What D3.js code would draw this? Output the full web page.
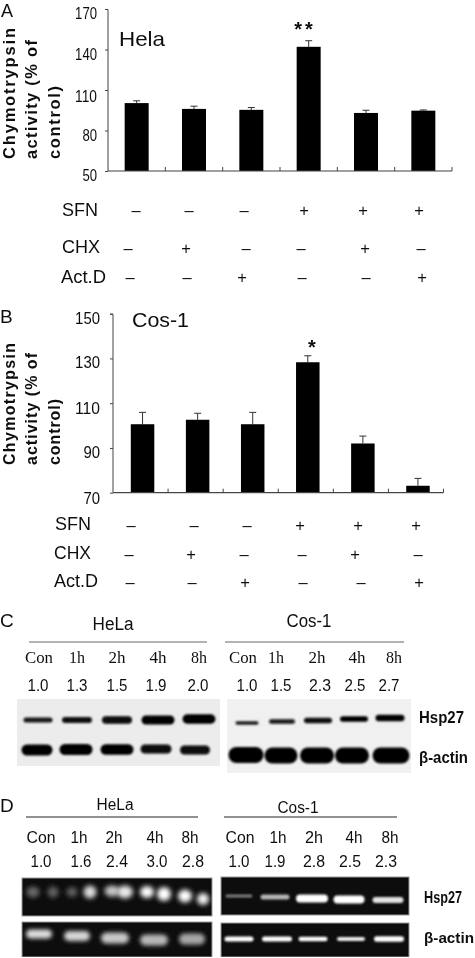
<!DOCTYPE html>
<html><head><meta charset="utf-8">
<script src="https://cdnjs.cloudflare.com/ajax/libs/d3/7.8.5/d3.min.js"></script>
<style>html,body{margin:0;padding:0;background:#fff}svg{display:block}text{font-family:"Liberation Sans",Arial,sans-serif;fill:#111}</style>
</head><body><svg id="c" width="475" height="958"></svg>
<script>
// ---- data ----
const treatments = ["1","2","3","4","5","6"];
const helaMeans = [100.3, 96, 95.3, 142, 93, 94.7];
const helaTops  = [102, 98, 97, 146.5, 95, 95.2];
const cosMeans  = [100.6, 102.6, 100.6, 128.3, 92, 73.1];
const cosTops   = [105.9, 105.5, 105.9, 131.2, 95.3, 76.4];
const helaTicks = [50, 80, 110, 140, 170];
const cosTicks  = [70, 90, 110, 130, 150];
const sfnSigns = ["–","–","–","+","+","+"];
const chxSigns = ["–","+","–","–","+","–"];
const actSigns = ["–","–","+","–","–","+"];
const lanes = ["Con","1h","2h","4h","8h"];
const foldCHeLa = ["1.0","1.3","1.5","1.9","2.0"];
const foldCCos  = ["1.0","1.5","2.3","2.5","2.7"];
const foldDHeLa = ["1.0","1.6","2.4","3.0","2.8"];
const foldDCos  = ["1.0","1.9","2.8","2.5","2.3"];
// band strengths read from the blots (0..1)
const cHspHeLa = [0.85,0.9,0.95,1,1];
const cActHeLa = [0.97,0.97,0.97,0.95,0.95];
const cHspCos  = [0.85,0.88,0.95,0.97,1];
const cActCos  = [1,1,1,1,1];
const dHspHeLaA = [0.32,0.28,0.75,1,1];
const dHspHeLaB = [0.3,0.85,0.9,1,0.95];
const dActHeLa = [0.85,0.82,0.75,0.68,0.6];
const dHspCos  = [0.42,0.68,1,1,0.88];
const dActCos  = [1,1,1,0.92,1];

const svg = d3.select("#c");
const defs = svg.append("defs");
[["b1",1.3],["b2",2.0],["b3",2.8]].forEach(([id,s])=>{
  defs.append("filter").attr("id",id).attr("x","-40%").attr("y","-100%").attr("width","180%").attr("height","300%")
    .append("feGaussianBlur").attr("stdDeviation",s);
});
defs.append("filter").attr("id","soft").attr("x","0").attr("y","0").attr("width","100%").attr("height","100%")
  .append("feGaussianBlur").attr("stdDeviation",0.35);
const root = svg.append("g").attr("filter","url(#soft)");

function T(x,y,s,o={}){
  const t=root.append("text").attr("x",x).attr("y",y).text(s)
    .attr("font-size",o.size||14).attr("text-anchor",o.anchor||"start");
  if(o.w){t.attr("textLength",o.w).attr("lengthAdjust",o.adj||"spacingAndGlyphs");}
  if(o.bold)t.attr("font-weight","bold");
  if(o.serif)t.style("font-family",'"Liberation Serif",serif');
  if(o.ls)t.attr("letter-spacing",o.ls);
  if(o.rot)t.attr("transform",`rotate(${o.rot} ${x} ${y})`);
  return t;
}

function barPanel(cfg){
  const g=root.append("g");
  const x=d3.scaleBand().domain(treatments).range([cfg.x0,cfg.x1]).padding(0);
  const y=d3.scaleLinear().domain(cfg.domain).range([cfg.yBase,cfg.yTop]);
  const bw=cfg.barW;
  g.selectAll("line.e").data(cfg.tops).join("line")
    .attr("x1",(d,i)=>x(treatments[i])+x.bandwidth()/2+cfg.shift).attr("x2",(d,i)=>x(treatments[i])+x.bandwidth()/2+cfg.shift)
    .attr("y1",(d,i)=>y(cfg.means[i])).attr("y2",d=>y(d)).attr("stroke","#333").attr("stroke-width",1);
  g.selectAll("line.c").data(cfg.tops).join("line")
    .attr("x1",(d,i)=>x(treatments[i])+x.bandwidth()/2+cfg.shift-3.5).attr("x2",(d,i)=>x(treatments[i])+x.bandwidth()/2+cfg.shift+3.5)
    .attr("y1",d=>y(d)).attr("y2",d=>y(d)).attr("stroke","#333").attr("stroke-width",1);
  g.selectAll("rect").data(cfg.means).join("rect")
    .attr("x",(d,i)=>x(treatments[i])+x.bandwidth()/2+cfg.shift-bw/2).attr("width",bw)
    .attr("y",d=>y(d)).attr("height",d=>cfg.yBase-y(d)).attr("fill","#060606");
  const ya=d3.axisLeft(y).tickValues(cfg.ticks).tickSize(3).tickFormat("");
  const yg=g.append("g").attr("transform",`translate(${cfg.x0},0)`).call(ya);
  yg.selectAll("path,line").attr("stroke","#444").attr("stroke-width",1);
  yg.select("path").attr("d",`M-3,${cfg.yTop+.5}H0V${cfg.yBase}`);
  const xa=d3.axisBottom(x).tickSize(0).tickFormat("");
  const xg=g.append("g").attr("transform",`translate(0,${cfg.yBase})`).call(xa);
  xg.select("path").attr("d",`M${cfg.x0},0H${cfg.x1}`).attr("stroke","#444").attr("stroke-width",1.2);
  xg.selectAll("line.t").data(treatments).join("line").attr("class","t")
    .attr("x1",d=>x(d)+x.bandwidth()).attr("x2",d=>x(d)+x.bandwidth()).attr("y1",0).attr("y2",-4)
    .attr("stroke","#444").attr("stroke-width",1);
  cfg.ticks.forEach((t,i)=>T(cfg.tickX,y(t)+cfg.tickDy[i],String(t),{anchor:"end",size:cfg.tickSize,w:String(t).length*cfg.digitW}));
}

barPanel({x0:108,x1:452,yBase:171,yTop:9,domain:[50,170],ticks:helaTicks,means:helaMeans,tops:helaTops,
  barW:24,shift:0,tickX:97,tickDy:[9.7,10,11.7,10.3,10.3],tickSize:17,digitW:7.3});
barPanel({x0:113,x1:443.5,yBase:492.7,yTop:313.7,domain:[70,150],ticks:cosTicks,means:cosMeans,tops:cosTops,
  barW:23.5,shift:2,tickX:100,tickDy:[11.3,10.5,11,10,10.3],tickSize:17,digitW:8.3});

// letters
T(1,16.5,"A",{size:18});T(0,323,"B",{size:19});T(0,627,"C",{size:19});T(0,812,"D",{size:19});
// titles
T(119,46,"Hela",{size:21,w:46});T(132,327,"Cos-1",{size:21,w:57});
T(305,36,"**",{size:20,anchor:"middle",ls:3,bold:true});
T(312,354,"*",{size:20,anchor:"middle",bold:true});

// y titles
[[15,159,"Chymotrypsin",131],[37,159,"activity (% of",119],[60,159,"control)",73]].forEach(([x,y,s,w])=>
  T(x,y,s,{rot:-90,bold:true,size:16.5,w,adj:"spacing"}));
[[15,465,"Chymotrypsin",122],[37,465,"activity (% of",112],[60,465,"control)",66]].forEach(([x,y,s,w])=>
  T(x,y,s,{rot:-90,bold:true,size:16,w,adj:"spacing"}));

// sign tables
const signRows=[
 {lab:"SFN",lx:62,ly:216,w:36,signs:sfnSigns,xs:[136,189,244,304,363,419],y:216},
 {lab:"CHX",lx:62,ly:253,w:38,signs:chxSigns,xs:[128,186,246,301,365,421],y:254},
 {lab:"Act.D",lx:61,ly:283,w:45,signs:actSigns,xs:[130,187,242,302,366,422],y:283},
 {lab:"SFN",lx:55,ly:530,w:36,signs:sfnSigns,xs:[131,194,247,300,358,416],y:531},
 {lab:"CHX",lx:54,ly:559,w:37,signs:chxSigns,xs:[129,191,244,302,355,418],y:560},
 {lab:"Act.D",lx:54,ly:587,w:44,signs:actSigns,xs:[130,192,245,303,361,419],y:588}];
signRows.forEach(r=>{
  T(r.lx,r.ly,r.lab,{size:18,w:r.w});
  r.signs.forEach((s,i)=>T(r.xs[i],r.y,s,{size:16.5,anchor:"middle"}));
});

// blots
function blot(rect,bg,border){
  root.append("rect").attr("x",rect[0]).attr("y",rect[1]).attr("width",rect[2]).attr("height",rect[3]).attr("fill",bg)
    .attr("stroke",border||"none").attr("stroke-width",border?1:0);
}
const clipN={i:0};
function bands(rect,cxs,cys,ws,hs,vals,col,blur,shape){
  const id="cl"+(clipN.i++);
  defs.append("clipPath").attr("id",id).append("rect").attr("x",rect[0]).attr("y",rect[1]).attr("width",rect[2]).attr("height",rect[3]);
  const rr=shape==="round";
  root.append("g").attr("clip-path",`url(#${id})`).append("g").attr("filter",`url(#${blur})`)
    .selectAll("rect").data(vals).join("rect")
    .attr("x",(d,i)=>cxs[i]-ws[i]/2).attr("y",(d,i)=>cys[i]-hs[i]/2)
    .attr("width",(d,i)=>ws[i]).attr("height",(d,i)=>hs[i])
    .attr("rx",(d,i)=>rr?ws[i]/2:hs[i]/2).attr("ry",(d,i)=>hs[i]/2)
    .attr("fill",d=>col(d));
}
const darkInk=d=>d3.interpolateRgb("#999","#000")(d);
const rC1=[17,699,203,67], rC2=[227,699,184,74];
blot(rC1,"#ececec");blot(rC2,"#f0f0f0");
bands(rC1,[38,77,117,158,199],[720,720,720,720,719],[29,30,30,33,33],[5,6,7.5,9,9.5],cHspHeLa,darkInk,"b1");
bands(rC1,[37,76,117,156,195],[750,749.5,749.5,749,750],[31,33,33,31,30],[11,11,10.5,9,9],cActHeLa,darkInk,"b1");
bands(rC2,[247,282,318,354,390],[723,721.5,720.5,719,718],[23,26,28,28,29],[3.5,4.5,5.5,5.5,6.5],cHspCos,darkInk,"b1");
bands(rC2,[246,281,317,352,391],[755,755.5,755.5,755.5,755.5],[35,33,34,34,37],[16,16,16,16,16],cActCos,d=>"#030303","b1");

const rD=[[22,878,190,38],[22,922,190,35],[221,877,188,38],[221,923,188,34]];
rD.forEach(r=>blot(r,"#0c0c0c","#999"));
const glow=d=>d3.interpolateRgb("#222","#fff")(d);
bands(rD[0],[33,72,112,147,185],[892,892,891,892,896],[13,11,15,14,14],[11,10,11,12,13],dHspHeLaA,glow,"b3","round");
bands(rD[0],[53,90,125,164,203],[892,892,892,894,899],[11,13,16,14,12],[11,13,13,14,12],dHspHeLaB,glow,"b3","round");
bands(rD[1],[39,77,115,154,192],[934,936,938,940,939],[26,26,28,28,26],[9,10,11,11,11],dActHeLa,glow,"b2");
bands(rD[2],[239,275,312,349,388],[896,897,898.5,899.5,900],[27,29,32,31,31],[3,5,8,8,6],dHspCos,glow,"b1");
bands(rD[3],[239,277,313,351,389],[939,939,939,939,939],[29,30,29,28,30],[5,5,4.5,4,5.5],dActCos,glow,"b1");

// header lines + lane labels
const hdr=[[29,207,642,"#666"],[225,404,642,"#666"],[26,198,817,"#222"],[224,397,817,"#222"]];
root.selectAll("line.h").data(hdr).join("line").attr("x1",d=>d[0]).attr("x2",d=>d[1]).attr("y1",d=>d[2]).attr("y2",d=>d[2])
  .attr("stroke",d=>d[3]).attr("stroke-width",1);
T(113,630,"HeLa",{size:18,anchor:"middle",w:41});T(309,627,"Cos-1",{size:18,anchor:"middle",w:45});
T(115,810,"HeLa",{size:16,anchor:"middle",w:37});T(298,813,"Cos-1",{size:16,anchor:"middle",w:41});

const rowsC=[[lanes,[39,77,117,158,199],663,{serif:true,size:16.5},[28,16,17,17,16]],
  [foldCHeLa,[38,77,117,156,198],691,{size:17},[21,21,21,21,21]],
  [lanes,[243,276,317,357,394],663,{serif:true,size:16.5},[28,16,17,17,16]],
  [foldCCos,[247,281,320,355,389],691,{size:17},[21,21,22,21,21]],
  [lanes,[41,79,114,155,190],843,{size:17},[29,17,17,17,17]],
  [foldDHeLa,[41,81,117,157,193],867,{size:17},[21,21,22,21,22]],
  [lanes,[240,278,314,354,390],843,{size:17},[29,17,18,17,17]],
  [foldDCos,[239,275,314,350,386],867,{size:17},[21,21,22,22,22]]];
rowsC.forEach(([vals,xs,y,o,ws])=>vals.forEach((v,i)=>T(xs[i],y,v,Object.assign({},o,{anchor:"middle",w:ws[i]}))));

T(419,722.5,"Hsp27",{bold:true,size:17,w:45});T(419,763,"β-actin",{bold:true,size:16,w:49});
T(424,903,"Hsp27",{bold:true,size:17,w:38});T(424,943,"β-actin",{bold:true,size:15,w:50});
</script></body></html>
